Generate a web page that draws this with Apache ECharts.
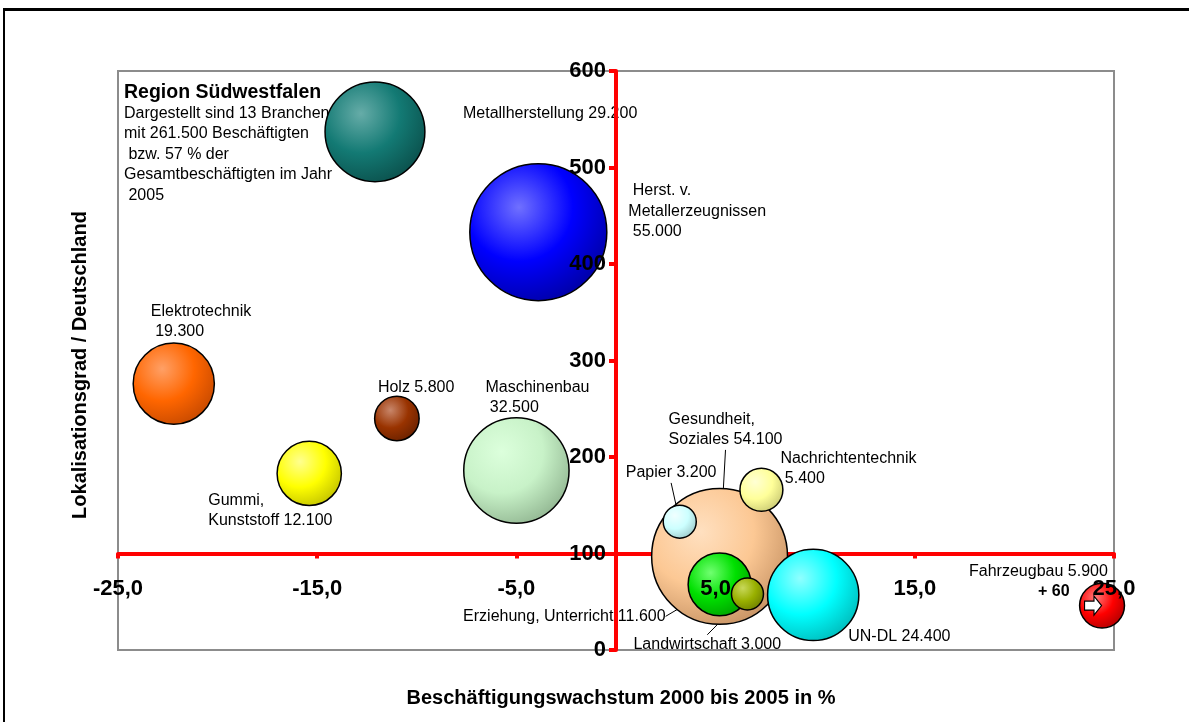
<!DOCTYPE html>
<html>
<head>
<meta charset="utf-8">
<script src="https://cdn.jsdelivr.net/npm/echarts@6/dist/echarts.min.js"></script>
<style>
html,body{margin:0;padding:0;background:#fff;overflow:hidden;}
#frame{position:absolute;left:3px;top:8px;width:1400px;height:900px;border-top:3px solid #000;border-left:2px solid #000;}
#c{position:absolute;left:0;top:0;width:1189px;height:722px;}
</style>
</head>
<body>
<div id="frame"></div>
<div id="c"></div>
<script>
// ---- data ----
const branches = ['Metallherstellung', 'Herst. v. Metallerzeugnissen', 'Elektrotechnik', 'Holz', 'Gummi, Kunststoff', 'Maschinenbau', 'Gesundheit, Soziales', 'Papier', 'Nachrichtentechnik', 'Erziehung, Unterricht', 'Landwirtschaft', 'UN-DL', 'Fahrzeugbau'];
const growth = [-12.1, -3.9, -22.2, -11.0, -15.4, -5.0, 5.2, 3.2, 7.3, 5.2, 6.6, 9.9, 24.4];
const localisation = [537, 433, 276, 240, 183, 186, 97, 133, 166, 68, 58, 57, 46];
const employees = [29200, 55000, 19300, 5800, 12100, 32500, 54100, 3200, 5400, 11600, 3000, 24400, 5900];
const labelTexts = ['Metallherstellung 29.200', ' Herst. v.\nMetallerzeugnissen\n 55.000', 'Elektrotechnik\n 19.300', 'Holz 5.800', 'Gummi,\nKunststoff 12.100', 'Maschinenbau\n 32.500', 'Gesundheit,\nSoziales 54.100', 'Papier 3.200', 'Nachrichtentechnik\n 5.400', 'Erziehung, Unterricht 11.600', 'Landwirtschaft 3.000', 'UN-DL 24.400', 'Fahrzeugbau 5.900'];
const fahrzeugNote = '+ 60';
const xTicks = [-25, -15, -5, 5, 15, 25];
const xMin = -25, xMax = 25;
const yMin = 0, yMax = 600, yInterval = 100;
const xCrossAt = 100;   // y value where the x axis crosses
const yCrossAt = 0;     // x value where the y axis crosses
const infoTitle = 'Region Südwestfalen';
const infoLines = ['Dargestellt sind 13 Branchen', 'mit 261.500 Beschäftigten', ' bzw. 57 % der', 'Gesamtbeschäftigten im Jahr', ' 2005'];
const xTitle = 'Beschäftigungswachstum 2000 bis 2005 in %';
const yTitle = 'Lokalisationsgrad / Deutschland';

// ---- styles ----
const FONT = '"Liberation Sans", Arial, sans-serif';
const bubbleColors = [
  ['#66aca8', '#137a74', '#0a4b47'],
  ['#7070ff', '#0000ff', '#00009a'],
  ['#ffa066', '#ff6600', '#c04600'],
  ['#c8866a', '#993300', '#641f00'],
  ['#ffff90', '#ffff00', '#bcbc00'],
  ['#dcffdc', '#c8f2c8', '#8cb08c'],
  ['#ffe0c0', '#fcc894', '#c08c5e'],
  ['#f0ffff', '#ccffff', '#98c4c4'],
  ['#ffffd4', '#ffff99', '#c4c470'],
  ['#70ff70', '#00e000', '#009a00'],
  ['#c8d85a', '#99b000', '#687800'],
  ['#90ffff', '#00ffff', '#00b4b4'],
  ['#ff7a7a', '#ff0000', '#a80000']
];
// label placement: [dx, dy, align, leaderLine]
const labelPlace = [
  [88, -18, 'left', false],
  [90, -21, 'left', false],
  [-23, -62, 'left', false],
  [-19, -31, 'left', false],
  [-101, 37, 'left', false],
  [-31, -73, 'left', false],
  [-51, -127, 'left', true],
  [-54, -49, 'left', true],
  [19, -21, 'left', false],
  [-54, 32, 'right', true],
  [-114, 51, 'left', true],
  [35, 42, 'left', false],
  [-133, -24, 'left', false]
];

const gridLeft = 118, gridTop = 71, gridW = 996, gridH = 579;
const xAxisOffset = -gridH * (xCrossAt - yMin) / (yMax - yMin);
const yAxisOffset = -gridW * (yCrossAt - xMin) / (xMax - xMin);
const maxEmp = Math.max.apply(null, employees);
const maxDiameter = 137;

function grad(c) {
  return {
    type: 'radial', x: 0.36, y: 0.32, r: 0.78,
    colorStops: [{offset: 0, color: c[0]}, {offset: 0.5, color: c[1]}, {offset: 1, color: c[2]}]
  };
}

const bubbleData = branches.map((n, i) => {
  const p = labelPlace[i];
  const item = {
    name: n,
    value: [growth[i], localisation[i], employees[i]],
    itemStyle: {color: grad(bubbleColors[i]), borderColor: '#000', borderWidth: 1.5, opacity: 1},
    label: {
      show: true, position: 'inside', offset: [p[0], p[1]], align: p[2], verticalAlign: 'middle',
      formatter: labelTexts[i], color: '#000', fontSize: 16, lineHeight: 20.5, fontFamily: FONT,
      textBorderWidth: 0, opacity: 1
    },
    labelLine: {show: p[3], length2: 0, lineStyle: {color: '#000', width: 1, opacity: 1}}
  };
  if (i === 12) {
    item.label.formatter = '{a|' + labelTexts[i] + '}\n{b|' + fahrzeugNote + '}';
    item.label.rich = {
      a: {fontSize: 16, color: '#000', fontFamily: FONT, lineHeight: 20},
      b: {fontSize: 16, fontWeight: 'bold', color: '#000', fontFamily: FONT, lineHeight: 20, padding: [0, 0, 0, 69]}
    };
  }
  return item;
});

const chart = echarts.init(document.getElementById('c'), null, {renderer: 'canvas'});
const option = {
  animation: false,
  textStyle: {fontFamily: FONT},
  title: {
    text: infoTitle,
    subtext: infoLines.join('\n'),
    left: 124, top: 83, padding: 0, itemGap: 0, z: 0,
    textStyle: {fontSize: 19.5, fontWeight: 'bold', color: '#000', lineHeight: 20, fontFamily: FONT},
    subtextStyle: {fontSize: 16, color: '#000', lineHeight: 20.5, fontFamily: FONT}
  },
  grid: {
    left: gridLeft, top: gridTop, width: gridW, height: gridH,
    show: true, borderColor: '#8c8c8c', borderWidth: 2, backgroundColor: 'transparent'
  },
  xAxis: [
    {
      type: 'value', min: xMin, max: xMax, position: 'bottom', offset: xAxisOffset, z: 0,
      axisLine: {onZero: false, lineStyle: {color: '#ff0000', width: 4}},
      axisTick: {show: true, customValues: xTicks, length: 5, lineStyle: {color: '#ff0000', width: 4}},
      axisLabel: {show: false}, splitLine: {show: false}
    },
    {
      type: 'value', min: xMin, max: xMax, position: 'bottom', offset: xAxisOffset, z: 10,
      axisLine: {show: false, onZero: false}, axisTick: {show: false}, splitLine: {show: false},
      axisLabel: {
        show: true, customValues: xTicks, margin: 24, fontSize: 22, fontWeight: 'bold', color: '#000', fontFamily: FONT,
        formatter: v => v.toFixed(1).replace('.', ',')
      }
    }
  ],
  yAxis: {
    type: 'value', min: yMin, max: yMax, interval: yInterval, position: 'left', offset: yAxisOffset, z: 10,
    axisLine: {show: true, onZero: false, lineStyle: {color: '#ff0000', width: 4}},
    axisTick: {show: true, inside: false, length: 7, lineStyle: {color: '#ff0000', width: 4}},
    axisLabel: {show: true, margin: 10, fontSize: 22, fontWeight: 'bold', color: '#000', fontFamily: FONT, verticalAlign: 'middle', padding: [4, 0, 0, 0]},
    splitLine: {show: false}
  },
  graphic: [
    {type: 'text', x: 80, y: 365, rotation: Math.PI / 2, style: {text: yTitle, fill: '#000', align: 'center', verticalAlign: 'middle', font: 'bold 20px ' + FONT}},
    {type: 'text', x: 621, y: 698, style: {text: xTitle, fill: '#000', align: 'center', verticalAlign: 'middle', font: 'bold 20px ' + FONT}}
  ],
  series: [
    {
      type: 'scatter', name: 'Branchen', xAxisIndex: 0, yAxisIndex: 0, z: 2,
      symbol: 'circle',
      symbolSize: v => maxDiameter * Math.sqrt(v[2] / maxEmp),
      itemStyle: {opacity: 1},
      data: bubbleData,
      emphasis: {disabled: true}
    },
    {
      type: 'scatter', name: 'Pfeil', xAxisIndex: 0, yAxisIndex: 0, z: 3,
      symbol: 'path://M0,5 L10,5 L10,0 L18,9.5 L10,19 L10,14 L0,14 Z',
      symbolSize: [17, 19], symbolOffset: [-9, 0], symbolKeepAspect: false,
      itemStyle: {color: '#fff', borderColor: '#000', borderWidth: 1.2, opacity: 1},
      data: [[growth[12], localisation[12]]],
      emphasis: {disabled: true}, silent: true
    }
  ]
};
chart.setOption(option);
</script>
</body>
</html>
